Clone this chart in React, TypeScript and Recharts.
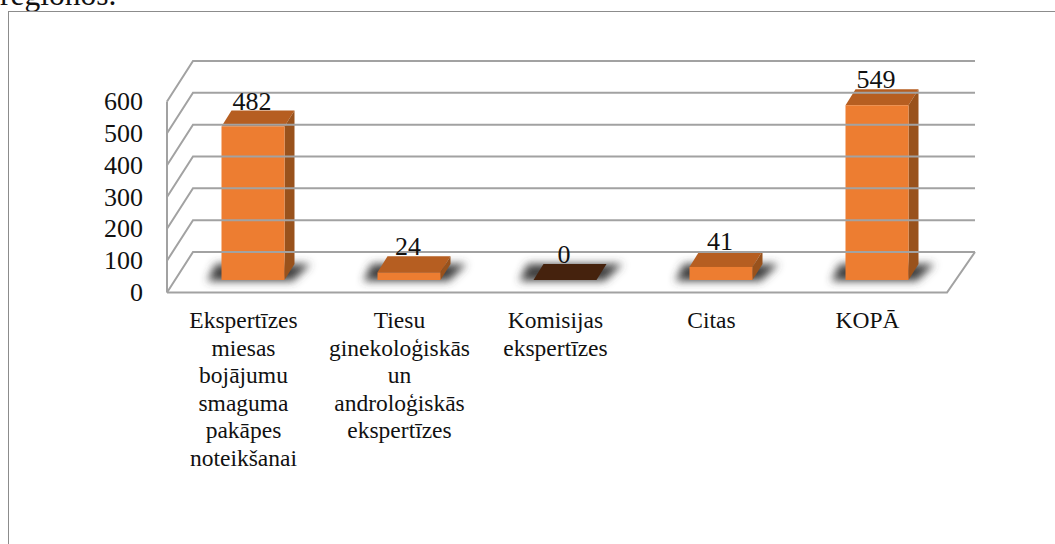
import React from "react";
import { BarChart, Bar, XAxis, YAxis, LabelList } from "recharts";

const categories = ["Ekspertīzes", "Tiesu", "Komisijas", "Citas", "KOPĀ"];
const categoryLines = [
	["Ekspertīzes", "miesas", "bojājumu", "smaguma", "pakāpes", "noteikšanai"],
	["Tiesu", "ginekoloģiskās", "un", "androloģiskās", "ekspertīzes"],
	["Komisijas", "ekspertīzes"],
	["Citas"],
	["KOPĀ"],
];
const values = [482, 24, 0, 41, 549];
const yTicks = [0, 100, 200, 300, 400, 500, 600];

const data = categories.map((name, i) => ({ name, value: values[i] }));

const FONT = "'Liberation Serif', 'Times New Roman', serif";
const GRID = "#a2a2a2";

// wall / floor of the fake 3D box, relative to the value scale
const FRONT_X = 167;
const BACK_X = 193;
const FLOOR_RIGHT_FRONT = 947;
const FLOOR_RIGHT_BACK = 975;
const FRONT_DY = 12.5;
const BACK_DY = -28;

// depth of a bar
const DEPTH_X = 10;
const DEPTH_Y = 16;

const YTick = (props: any) => {
	const { y, payload } = props;
	const fy = y + FRONT_DY;
	const by = y + BACK_DY;
	const isZero = payload.value === 0;
	return (
		<g>
			<path d={`M${FRONT_X} ${fy} L${BACK_X} ${by} L${FLOOR_RIGHT_BACK} ${by}`} fill="none" stroke={GRID} strokeWidth={2} />
			{isZero && (
				<path
					d={`M${FRONT_X} ${fy} L${FLOOR_RIGHT_FRONT} ${fy} L${FLOOR_RIGHT_BACK} ${by}`}
					fill="none"
					stroke={GRID}
					strokeWidth={2}
				/>
			)}
			{isZero && <line x1={FRONT_X} x2={FRONT_X} y1={fy} y2={fy - 191} stroke={GRID} strokeWidth={2} />}
			<text x={143} y={fy + 8.5} textAnchor="end" fontFamily={FONT} fontSize={26} fill="#111">
				{payload.value}
			</text>
		</g>
	);
};

const XTick = (props: any) => {
	const { x, y, index } = props;
	const lines = categoryLines[index] || [];
	return (
		<g>
			{lines.map((line, i) => (
				<text key={i} x={x - 9} y={y + 40 + i * 27.6} textAnchor="middle" fontFamily={FONT} fontSize={23.5} fill="#111">
					{line}
				</text>
			))}
		</g>
	);
};

const Box = (props: any) => {
	const { x, y, width, height } = props;
	const r = x + width;
	const b = y + height;
	const empty = height < 1;
	return (
		<g>
			<path
				d={`M${x - 14} ${b + 1} L${r + 8} ${b + 1} L${r + 26} ${b - 16} L${x - 6} ${b - 16} Z`}
				fill="#404040"
				filter="url(#floorShadow)"
			/>
			<path
				d={`M${x} ${y} L${x + DEPTH_X} ${y - DEPTH_Y} L${r + DEPTH_X} ${y - DEPTH_Y} L${r} ${y} Z`}
				fill={empty ? "#45220d" : "#b65e21"}
			/>
			{!empty && (
				<>
					<path d={`M${r} ${y} L${r + DEPTH_X} ${y - DEPTH_Y} L${r + DEPTH_X} ${b - DEPTH_Y} L${r} ${b} Z`} fill="#99521c" />
					<rect x={x} y={y} width={width} height={height} fill="#ed7d31" />
				</>
			)}
		</g>
	);
};

const BarValue = (props: any) => {
	const { x, y, width, value } = props;
	return (
		<text x={x + width / 2 - 1} y={y - DEPTH_Y - 1} textAnchor="middle" fontFamily={FONT} fontSize={26} fill="#111">
			{value}
		</text>
	);
};

export default function App() {
	return (
		<div style={{ position: "absolute", left: 0, top: 0, width: 1055, height: 544, overflow: "hidden", background: "#fff" }}>
			<div
				style={{
					position: "absolute",
					left: 0,
					top: -23.5,
					fontFamily: FONT,
					fontSize: 31.5,
					lineHeight: "36px",
					color: "#111",
				}}
			>
				reģionos.
			</div>
			<div
				style={{
					position: "absolute",
					left: 8,
					top: 11,
					right: 0,
					bottom: 0,
					borderTop: "1.5px solid #8c8c8c",
					borderLeft: "1.5px solid #8c8c8c",
				}}
			/>
			<div style={{ position: "absolute", left: 0, top: 0 }}>
				<BarChart
					width={1055}
					height={544}
					data={data}
					barSize={63}
					margin={{ top: 89, right: 100.5, bottom: 164, left: 0 }}
				>
					<defs>
						<filter id="floorShadow" x="-30%" y="-80%" width="160%" height="260%">
							<feGaussianBlur stdDeviation="4" />
						</filter>
					</defs>
					<XAxis dataKey="name" height={100} axisLine={false} tickLine={false} interval={0} tick={<XTick />} />
					<YAxis
						width={174.5}
						domain={[0, 600]}
						ticks={yTicks}
						axisLine={false}
						tickLine={false}
						interval={0}
						tick={<YTick />}
					/>
					<Bar dataKey="value" isAnimationActive={false} shape={<Box />}>
						<LabelList dataKey="value" content={<BarValue />} />
					</Bar>
				</BarChart>
			</div>
		</div>
	);
}
